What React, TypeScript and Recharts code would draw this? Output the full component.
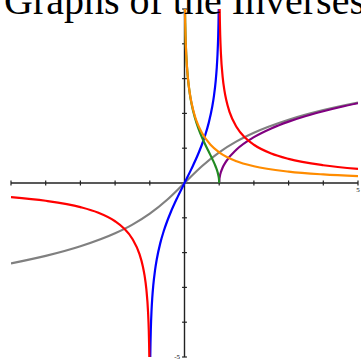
import React from 'react';
import { LineChart, Line, XAxis, YAxis, ReferenceLine } from 'recharts';

type Pt = [number, number];

// inverse hyperbolic curves, sampled points (x, y)
const arcsinhPts: Pt[] = [
  [-5, -2.312], [-4, -2.095], [-3, -1.818], [-2, -1.444], [-1.5, -1.195], [-1, -0.881],
  [-0.5, -0.481], [0, 0], [0.5, 0.481], [1, 0.881], [1.5, 1.195], [2, 1.444],
  [3, 1.818], [4, 2.095], [5, 2.312],
];

const arccoshPts: Pt[] = [
  [1, 0], [1.005, 0.1], [1.02, 0.2], [1.05, 0.315], [1.1, 0.444], [1.2, 0.622],
  [1.5, 0.962], [2, 1.317], [2.5, 1.567], [3, 1.763], [3.5, 1.925], [4, 2.063],
  [4.5, 2.185], [5, 2.292],
];

const arctanhPts: Pt[] = [
  [-0.9866, -5], [-0.98, -4.595], [-0.97, -4.185], [-0.95, -3.664], [-0.93, -3.317],
  [-0.9, -2.944], [-0.85, -2.512], [-0.8, -2.197], [-0.7, -1.735], [-0.6, -1.386],
  [-0.5, -1.099], [-0.4, -0.847], [-0.2, -0.405], [0, 0], [0.2, 0.405], [0.4, 0.847],
  [0.5, 1.099], [0.6, 1.386], [0.7, 1.735], [0.8, 2.197], [0.85, 2.512], [0.9, 2.944],
  [0.93, 3.317], [0.95, 3.664], [0.97, 4.185], [0.98, 4.595], [0.9866, 5],
];

const arcsechPts: Pt[] = [
  [0.0135, 5], [0.02, 4.605], [0.03, 4.199], [0.05, 3.688], [0.1, 2.993], [0.15, 2.585],
  [0.2, 2.292], [0.3, 1.874], [0.4, 1.567], [0.5, 1.317], [0.6, 1.099], [0.7, 0.896],
  [0.8, 0.693], [0.9, 0.467], [0.95, 0.323], [0.98, 0.202], [0.995, 0.1], [1, 0],
];

const arccschPts: Pt[] = [
  [0.0135, 5], [0.02, 4.605], [0.03, 4.2], [0.05, 3.69], [0.075, 3.285], [0.1, 2.998],
  [0.15, 2.596], [0.2, 2.312], [0.3, 1.919], [0.4, 1.647], [0.5, 1.444], [0.75, 1.099],
  [1, 0.881], [1.5, 0.625], [2, 0.481], [3, 0.327], [4, 0.247], [5, 0.199],
];

const arccothRight: Pt[] = [
  [1.0136, 5], [1.02, 4.615], [1.03, 4.215], [1.05, 3.714], [1.1, 3.045], [1.15, 2.663],
  [1.2, 2.398], [1.3, 2.037], [1.5, 1.609], [1.75, 1.299], [2, 1.099], [2.5, 0.847],
  [3, 0.693], [4, 0.511], [5, 0.405],
];

const arccothLeft: Pt[] = [
  [-5, -0.405], [-4, -0.511], [-3, -0.693], [-2.5, -0.847], [-2, -1.099], [-1.75, -1.299],
  [-1.5, -1.609], [-1.3, -2.037], [-1.2, -2.398], [-1.15, -2.663], [-1.1, -3.045],
  [-1.05, -3.714], [-1.03, -4.215], [-1.02, -4.615], [-1.0136, -5],
];

const xTicks = [-5, -4, -3, -2, -1, 1, 2, 3, 4, 5];
const yTicks = [-5, -4, -3, -2, -1, 1, 2, 3, 4, 5];

const toRows = (pts: Pt[]) => pts.map(([x, y]) => ({ x, y }));

const curves = [
  { key: 'asinh', pts: arcsinhPts, color: '#808080' },
  { key: 'acosh', pts: arccoshPts, color: '#800080' },
  { key: 'atanh', pts: arctanhPts, color: '#0000ff' },
  { key: 'asech', pts: arcsechPts, color: '#228b22' },
  { key: 'acsch', pts: arccschPts, color: '#ff8c00' },
  { key: 'acothR', pts: arccothRight, color: '#ff0000' },
  { key: 'acothL', pts: arccothLeft, color: '#ff0000' },
];

const AXIS = '#222';
const TICK = 0.07;

export default function App() {
  return (
    <div style={{ position: 'absolute', left: 0, top: 0, width: 361, height: 360, overflow: 'hidden', background: '#fff' }}>
      <LineChart width={361} height={360} margin={{ top: 9, right: 3, bottom: 3, left: 11 }}>
        <XAxis type="number" dataKey="x" domain={[-5, 5]} hide allowDataOverflow />
        <YAxis type="number" dataKey="y" domain={[-5, 5]} hide allowDataOverflow />
        <ReferenceLine segment={[{ x: -5, y: 0 }, { x: 5, y: 0 }]} stroke={AXIS} strokeWidth={1.4} />
        <ReferenceLine segment={[{ x: 0, y: -5 }, { x: 0, y: 5 }]} stroke={AXIS} strokeWidth={1.4} />
        {xTicks.map((t) => (
          <ReferenceLine
            key={'xt' + t}
            segment={[{ x: t, y: -TICK }, { x: t, y: TICK }]}
            stroke={AXIS}
            strokeWidth={1.2}
            label={t === 5 ? { value: '5', position: 'bottom', offset: 2, fontSize: 7, fill: '#000', fontFamily: 'Liberation Serif' } : undefined}
          />
        ))}
        {yTicks.map((t) => (
          <ReferenceLine
            key={'yt' + t}
            segment={[{ x: -TICK, y: t }, { x: TICK, y: t }]}
            stroke={AXIS}
            strokeWidth={1.2}
            label={t === -5 ? { value: '-5', position: 'left', offset: 2, fontSize: 7, fill: '#000', fontFamily: 'Liberation Serif' } : undefined}
          />
        ))}
        {curves.map((c) => (
          <Line
            key={c.key}
            data={toRows(c.pts)}
            dataKey="y"
            type="monotone"
            stroke={c.color}
            strokeWidth={2.2}
            dot={false}
            isAnimationActive={false}
          />
        ))}
      </LineChart>
      <svg width={361} height={40} style={{ position: 'absolute', left: 0, top: 0, pointerEvents: 'none' }}>
        <text x={4} y={14} fontFamily="Liberation Serif" fontSize={40} fill="#000">
          Graphs of the Inverses
        </text>
      </svg>
    </div>
  );
}
